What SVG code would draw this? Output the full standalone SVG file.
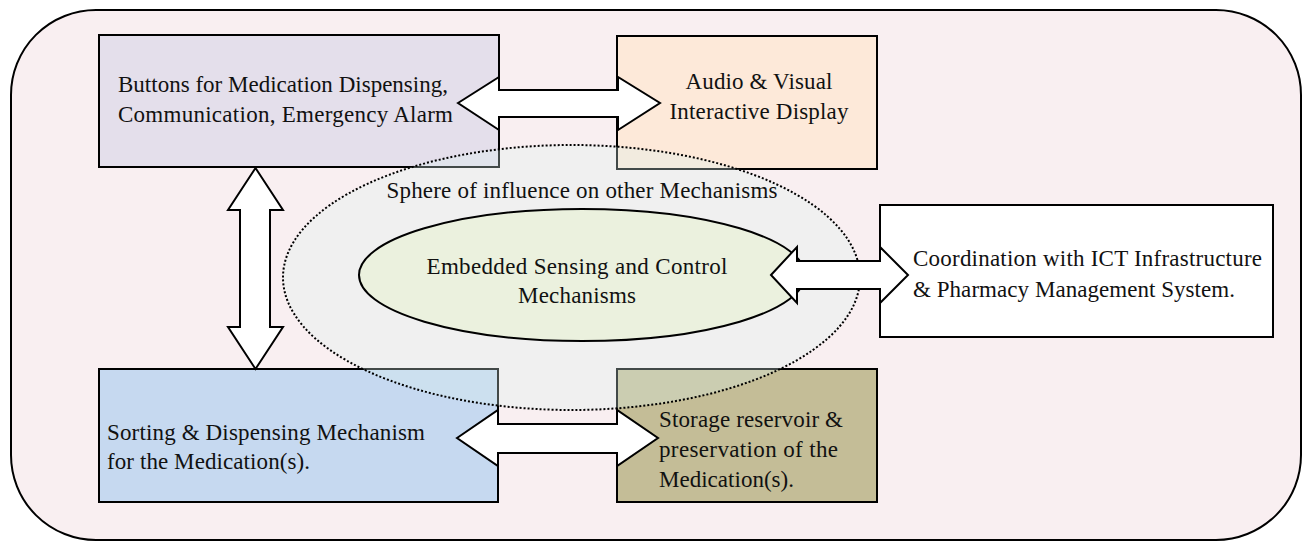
<svg xmlns="http://www.w3.org/2000/svg" width="1307" height="542" viewBox="0 0 1307 542">
  <style>
    .box { stroke: #000; stroke-width: 2; }
    .lbl { font-family: "Liberation Serif", "Times New Roman", serif; font-size: 23px; fill: #111; }
    .mid { text-anchor: middle; }
    .arrow { fill: #fff; stroke: #000; stroke-width: 2; stroke-linejoin: miter; }
  </style>

  <!-- device housing -->
  <rect id="housing" x="11" y="10" width="1290" height="530" rx="85" ry="85" fill="#f9eff1" stroke="#000" stroke-width="2"/>

  <g id="buttons">
    <rect class="box" x="99" y="35" width="400" height="132" fill="#e4dfeb"/>
    <text class="lbl" x="118" y="92" textLength="330">Buttons for Medication Dispensing,</text>
    <text class="lbl" x="118" y="122" textLength="335">Communication, Emergency Alarm</text>
  </g>

  <g id="display">
    <rect class="box" x="617" y="36" width="260" height="133" fill="#fde9d9"/>
    <text class="lbl mid" x="759" y="89" textLength="147">Audio &amp; Visual</text>
    <text class="lbl mid" x="759" y="119" textLength="179">Interactive Display</text>
  </g>

  <g id="ict">
    <rect class="box" x="880" y="205" width="393" height="132" fill="#ffffff"/>
    <text class="lbl" x="913" y="266" textLength="349">Coordination with ICT Infrastructure</text>
    <text class="lbl" x="913" y="297" textLength="322">&amp; Pharmacy Management System.</text>
  </g>

  <g id="dispensing">
    <rect class="box" x="99" y="369" width="399" height="133" fill="#c6d9f0"/>
    <text class="lbl" x="107" y="440" textLength="318">Sorting &amp; Dispensing Mechanism</text>
    <text class="lbl" x="107" y="469" textLength="203">for the Medication(s).</text>
  </g>

  <g id="storage">
    <rect class="box" x="617" y="369" width="260" height="133" fill="#c4bd97"/>
    <text class="lbl" x="659" y="427" textLength="184">Storage reservoir &amp;</text>
    <text class="lbl" x="659" y="457" textLength="179">preservation of the</text>
    <text class="lbl" x="659" y="487" textLength="135">Medication(s).</text>
  </g>

  <!-- translucent zone of influence around the controller -->
  <g id="sphere">
    <ellipse cx="571.5" cy="277.5" rx="288.5" ry="132.5" fill="#dbf2ee" fill-opacity="0.3" stroke="#000" stroke-width="2" stroke-dasharray="2 2"/>
    <text class="lbl mid" x="582" y="198" textLength="391">Sphere of influence on other Mechanisms</text>
  </g>

  <g id="controller">
    <ellipse cx="582" cy="275" rx="223" ry="66" fill="#ebf1de" stroke="#000" stroke-width="2"/>
    <text class="lbl mid" x="577" y="274" textLength="301">Embedded Sensing and Control</text>
    <text class="lbl mid" x="577" y="303" textLength="118">Mechanisms</text>
  </g>

  <!-- two-way block arrows -->
  <g id="connectors">
    <path class="arrow" d="M458,103 L499,77 L499,90 L618,90 L618,77 L660,103 L618,130 L618,117 L499,117 L499,130 Z"/>
    <path class="arrow" d="M255.5,168 L283,210 L270,210 L270,327 L283,327 L255.5,369 L228,327 L240,327 L240,210 L228,210 Z"/>
    <path class="arrow" d="M457,438 L498,410 L498,424 L617,424 L617,410 L658,438 L617,466 L617,453 L498,453 L498,466 Z"/>
    <path class="arrow" d="M771,275 L797,247 L797,261 L880,261 L880,247 L908,275 L880,303 L880,289 L797,289 L797,303 Z"/>
  </g>
</svg>
